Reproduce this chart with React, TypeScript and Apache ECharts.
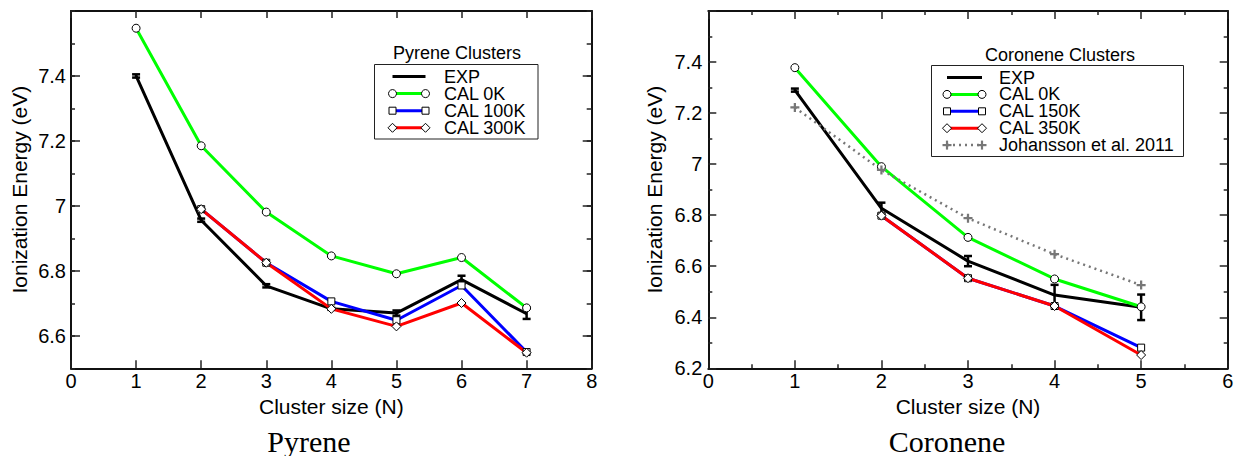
import React, { useEffect, useRef } from 'react';
import * as echarts from 'echarts';

// ---------------- data ----------------
const pyreneN = [1, 2, 3, 4, 5, 6, 7];
const pyreneExp = [7.4, 6.956, 6.754, 6.683, 6.67, 6.773, 6.668];
const pyreneExpErr = [0.005, 0.005, 0.005, 0.003, 0.008, 0.012, 0.016];
const pyreneCal0K = [7.547, 7.185, 6.981, 6.846, 6.791, 6.841, 6.686];
const pyreneCalN = [2, 3, 4, 5, 6, 7];
const pyreneCal100K = [6.99, 6.825, 6.706, 6.648, 6.755, 6.55];
const pyreneCal300K = [6.99, 6.825, 6.683, 6.629, 6.701, 6.548];

const coroneneN = [1, 2, 3, 4, 5];
const coroneneExp = [7.29, 6.827, 6.62, 6.487, 6.439];
const coroneneExpErr = [0.006, 0.022, 0.02, 0.04, 0.05];
const coroneneCal0K = [7.378, 6.99, 6.713, 6.55, 6.441];
const coroneneCalN = [2, 3, 4, 5];
const coroneneCal150K = [6.798, 6.553, 6.444, 6.281];
const coroneneCal350K = [6.798, 6.553, 6.444, 6.252];
const johansson2011 = [7.222, 6.977, 6.788, 6.647, 6.526];

const pyreneYLabels = [6.6, 6.8, 7, 7.2, 7.4];
const pyreneLegend = ['EXP', 'CAL 0K', 'CAL 100K', 'CAL 300K'];
const coroneneLegend = ['EXP', 'CAL 0K', 'CAL 150K', 'CAL 350K', 'Johansson et al. 2011'];
const subtitles = ['Pyrene', 'Coronene'];
const legendTitles = ['Pyrene Clusters', 'Coronene Clusters'];
const xName = 'Cluster size (N)';
const yName = 'Ionization Energy (eV)';

// ---------------- styles ----------------
const FF = '"Liberation Sans", Arial, Helvetica, sans-serif';
const GREEN = '#00ff00';
const BLUE = '#0000ff';
const RED = '#ff0000';
const GRAY = '#777777';
const PLUS = 'path://M3,0H5V3H8V5H5V8H3V5H0V3H3Z';

const zip = (xs: number[], ys: number[]) => xs.map((x, i) => [x, ys[i]]);

const axLine = { show: true, onZero: false, lineStyle: { color: '#111', width: 2 } };
const tickStyle = { color: '#222', width: 1.5 };
const labelStyle = { fontSize: 20, color: '#000', fontFamily: FF };
const nameStyle = { fontSize: 21, color: '#000', fontFamily: FF };

function errSeries(xs: number[], ys: number[], es: number[], xi: number, yi: number) {
  return {
    type: 'custom',
    xAxisIndex: xi,
    yAxisIndex: yi,
    silent: true,
    data: xs.map((x, i) => [x, ys[i] - es[i], ys[i] + es[i]]),
    encode: { x: 0, y: [1, 2] },
    renderItem: (params: any, api: any) => {
      const lo = api.coord([api.value(0), api.value(1)]);
      const hi = api.coord([api.value(0), api.value(2)]);
      const hw = 4;
      const style = { stroke: '#000', lineWidth: 2.5 };
      return {
        type: 'group',
        children: [
          { type: 'line', shape: { x1: lo[0], y1: lo[1], x2: hi[0], y2: hi[1] }, style },
          { type: 'line', shape: { x1: lo[0] - hw, y1: lo[1], x2: lo[0] + hw, y2: lo[1] }, style },
          { type: 'line', shape: { x1: hi[0] - hw, y1: hi[1], x2: hi[0] + hw, y2: hi[1] }, style },
        ],
      };
    },
  };
}

function lineSeries(name: string, data: number[][], xi: number, yi: number, color: string, symbol: string, size: number, extra: any = {}) {
  return {
    type: 'line',
    name,
    xAxisIndex: xi,
    yAxisIndex: yi,
    data,
    silent: true,
    symbol,
    symbolSize: size,
    showSymbol: symbol !== 'none',
    lineStyle: { color, width: 3, ...(extra.lineStyle || {}) },
    itemStyle: extra.itemStyle || { color: '#fff', borderColor: '#000', borderWidth: 1 },
    emphasis: { disabled: true },
  };
}

type LegItem = { name: string; color: string; symbol: string; dotted?: boolean };

function legendGraphic(o: {
  title: string; titleX: number; titleY: number;
  boxX: number; boxY: number; boxW: number; boxH: number;
  rowY0: number; rowDy: number; x1: number; x2: number; textX: number; items: LegItem[];
}) {
  const els: any[] = [];
  els.push({
    type: 'text', x: o.titleX, y: o.titleY, z: 100,
    style: { text: o.title, font: `18px ${FF}`, lineHeight: 15, fill: '#000', align: 'center', verticalAlign: 'middle', textAlign: 'center', textVerticalAlign: 'middle' },
  });
  els.push({
    type: 'rect', z: 99, shape: { x: o.boxX, y: o.boxY, width: o.boxW, height: o.boxH },
    style: { fill: '#fff', stroke: '#222', lineWidth: 1 },
  });
  o.items.forEach((it, i) => {
    const y = o.rowY0 + i * o.rowDy;
    els.push({
      type: 'line', z: 100, shape: { x1: o.x1, y1: y, x2: o.x2, y2: y },
      style: it.dotted ? { stroke: it.color, lineWidth: 2.5, lineDash: [2, 4] } : { stroke: it.color, lineWidth: 3 },
    });
    [o.x1, o.x2].forEach((cx) => {
      const st = { fill: '#fff', stroke: '#000', lineWidth: 1 };
      if (it.symbol === 'circle') els.push({ type: 'circle', z: 101, shape: { cx, cy: y, r: 4 }, style: st });
      if (it.symbol === 'rect') els.push({ type: 'rect', z: 101, shape: { x: cx - 3.5, y: y - 3.5, width: 7, height: 7 }, style: st });
      if (it.symbol === 'diamond')
        els.push({ type: 'polygon', z: 101, shape: { points: [[cx, y - 4.5], [cx + 4.5, y], [cx, y + 4.5], [cx - 4.5, y]] }, style: st });
      if (it.symbol === 'plus') {
        els.push({ type: 'rect', z: 101, shape: { x: cx - 4.5, y: y - 1.1, width: 9, height: 2.2 }, style: { fill: it.color } });
        els.push({ type: 'rect', z: 101, shape: { x: cx - 1.1, y: y - 4.5, width: 2.2, height: 9 }, style: { fill: it.color } });
      }
    });
    els.push({
      type: 'text', x: o.textX, y: y, z: 100,
      style: { text: it.name, font: `18px ${FF}`, lineHeight: 15, fill: '#000', align: 'left', verticalAlign: 'middle', textAlign: 'left', textVerticalAlign: 'middle' },
    });
  });
  return els;
}

export default function App() {
  const ref = useRef<HTMLDivElement>(null);
  useEffect(() => {
    if (!ref.current) return;
    const chart = echarts.init(ref.current, null, { renderer: 'svg' });

    const xAxes = [
      {
        type: 'value', gridIndex: 0, position: 'bottom', min: 0, max: 8, interval: 1,
        axisLine: axLine, axisTick: { show: true, inside: true, length: 8, lineStyle: tickStyle },
        axisLabel: { ...labelStyle, margin: 3 }, splitLine: { show: false },
        name: xName, nameLocation: 'middle', nameGap: 21, nameTextStyle: nameStyle,
      },
      {
        type: 'value', gridIndex: 0, position: 'top', min: 0, max: 8, interval: 1,
        axisLine: axLine, axisTick: { show: true, inside: true, length: 7, lineStyle: tickStyle },
        axisLabel: { show: false }, splitLine: { show: false },
      },
      {
        type: 'value', gridIndex: 1, position: 'bottom', min: 0, max: 6, interval: 1,
        axisLine: axLine, axisTick: { show: true, inside: true, length: 8, lineStyle: tickStyle },
        minorTick: { show: true, splitNumber: 2, length: 4, lineStyle: tickStyle },
        axisLabel: { ...labelStyle, margin: 3 }, splitLine: { show: false },
        name: xName, nameLocation: 'middle', nameGap: 21, nameTextStyle: nameStyle,
      },
      {
        type: 'value', gridIndex: 1, position: 'top', min: 0, max: 6, interval: 1,
        axisLine: axLine, axisTick: { show: true, inside: true, length: 8, lineStyle: tickStyle },
        minorTick: { show: true, splitNumber: 2, length: 4, lineStyle: tickStyle },
        axisLabel: { show: false }, splitLine: { show: false },
      },
    ];

    const yAxes = [
      {
        type: 'value', gridIndex: 0, position: 'left', min: 6.5, max: 7.6, interval: 0.1,
        axisLine: axLine, axisTick: { show: true, inside: true, length: 4, lineStyle: tickStyle },
        axisLabel: { ...labelStyle, margin: 5, customValues: pyreneYLabels }, splitLine: { show: false },
        name: yName, nameLocation: 'middle', nameGap: 41, nameTextStyle: nameStyle,
      },
      {
        type: 'value', gridIndex: 0, position: 'left', min: 6.5, max: 7.6, interval: 0.1,
        axisLine: { show: false, onZero: false },
        axisTick: { show: true, inside: true, length: 9, lineStyle: tickStyle, customValues: pyreneYLabels },
        axisLabel: { show: false }, splitLine: { show: false },
      },
      {
        type: 'value', gridIndex: 0, position: 'right', min: 6.5, max: 7.6, interval: 0.1,
        axisLine: axLine, axisTick: { show: true, inside: true, length: 5, lineStyle: tickStyle },
        axisLabel: { show: false }, splitLine: { show: false },
      },
      {
        type: 'value', gridIndex: 0, position: 'right', min: 6.5, max: 7.6, interval: 0.1,
        axisLine: { show: false, onZero: false },
        axisTick: { show: true, inside: true, length: 9, lineStyle: tickStyle, customValues: pyreneYLabels },
        axisLabel: { show: false }, splitLine: { show: false },
      },
      {
        type: 'value', gridIndex: 1, position: 'left', min: 6.2, max: 7.6, interval: 0.2,
        axisLine: axLine, axisTick: { show: true, inside: true, length: 8, lineStyle: tickStyle },
        minorTick: { show: true, splitNumber: 2, length: 4, lineStyle: tickStyle },
        axisLabel: { ...labelStyle, margin: 6, showMaxLabel: false }, splitLine: { show: false },
        name: yName, nameLocation: 'middle', nameGap: 43, nameTextStyle: nameStyle,
      },
      {
        type: 'value', gridIndex: 1, position: 'right', min: 6.2, max: 7.6, interval: 0.2,
        axisLine: axLine, axisTick: { show: true, inside: true, length: 8, lineStyle: tickStyle },
        minorTick: { show: true, splitNumber: 2, length: 4, lineStyle: tickStyle },
        axisLabel: { show: false }, splitLine: { show: false },
      },
    ];

    const series: any[] = [
      errSeries(pyreneN, pyreneExp, pyreneExpErr, 0, 0),
      lineSeries('EXP', zip(pyreneN, pyreneExp), 0, 0, '#000', 'none', 0),
      lineSeries('CAL 0K', zip(pyreneN, pyreneCal0K), 0, 0, GREEN, 'circle', 8),
      lineSeries('CAL 100K', zip(pyreneCalN, pyreneCal100K), 0, 0, BLUE, 'rect', 7),
      lineSeries('CAL 300K', zip(pyreneCalN, pyreneCal300K), 0, 0, RED, 'diamond', 9),

      errSeries(coroneneN, coroneneExp, coroneneExpErr, 2, 4),
      lineSeries('EXP', zip(coroneneN, coroneneExp), 2, 4, '#000', 'none', 0),
      lineSeries('CAL 0K', zip(coroneneN, coroneneCal0K), 2, 4, GREEN, 'circle', 8),
      lineSeries('CAL 150K', zip(coroneneCalN, coroneneCal150K), 2, 4, BLUE, 'rect', 7),
      lineSeries('CAL 350K', zip(coroneneCalN, coroneneCal350K), 2, 4, RED, 'diamond', 9),
      lineSeries('Johansson et al. 2011', zip(coroneneN, johansson2011), 2, 4, GRAY, PLUS, 9, {
        lineStyle: { type: [2, 4], width: 2.5, cap: 'butt' },
        itemStyle: { color: GRAY, borderWidth: 0 },
      }),
    ];

    const graphic: any[] = [
      ...legendGraphic({
        title: legendTitles[0], titleX: 457, titleY: 53,
        boxX: 374.5, boxY: 64.5, boxW: 163.5, boxH: 74.5,
        rowY0: 76.5, rowDy: 17.1, x1: 392.5, x2: 425.5, textX: 444,
        items: [
          { name: pyreneLegend[0], color: '#000', symbol: 'none' },
          { name: pyreneLegend[1], color: GREEN, symbol: 'circle' },
          { name: pyreneLegend[2], color: BLUE, symbol: 'rect' },
          { name: pyreneLegend[3], color: RED, symbol: 'diamond' },
        ],
      }),
      ...legendGraphic({
        title: legendTitles[1], titleX: 1060, titleY: 55,
        boxX: 931.5, boxY: 65.5, boxW: 252, boxH: 91,
        rowY0: 77.5, rowDy: 16.9, x1: 947, x2: 982, textX: 999,
        items: [
          { name: coroneneLegend[0], color: '#000', symbol: 'none' },
          { name: coroneneLegend[1], color: GREEN, symbol: 'circle' },
          { name: coroneneLegend[2], color: BLUE, symbol: 'rect' },
          { name: coroneneLegend[3], color: RED, symbol: 'diamond' },
          { name: coroneneLegend[4], color: GRAY, symbol: 'plus', dotted: true },
        ],
      }),
      {
        type: 'text', x: 309, y: 441, z: 100,
        style: { text: subtitles[0], font: '30px "Liberation Serif", "DejaVu Serif", serif', fill: '#000', align: 'center', verticalAlign: 'middle', textAlign: 'center', textVerticalAlign: 'middle' },
      },
      {
        type: 'text', x: 947, y: 441, z: 100,
        style: { text: subtitles[1], font: '30px "Liberation Serif", "DejaVu Serif", serif', fill: '#000', align: 'center', verticalAlign: 'middle', textAlign: 'center', textVerticalAlign: 'middle' },
      },
    ];

    chart.setOption({
      animation: false,
      backgroundColor: '#fff',
      grid: [
        { left: 71, top: 11, width: 520.7, height: 357.3 },
        { left: 708.3, top: 11, width: 519.4, height: 357.3 },
      ],
      xAxis: xAxes,
      yAxis: yAxes,
      series,
      graphic,
    });
    return () => chart.dispose();
  }, []);
  return <div ref={ref} style={{ position: 'fixed', left: 0, top: 0, width: 1237, height: 456 }} />;
}
